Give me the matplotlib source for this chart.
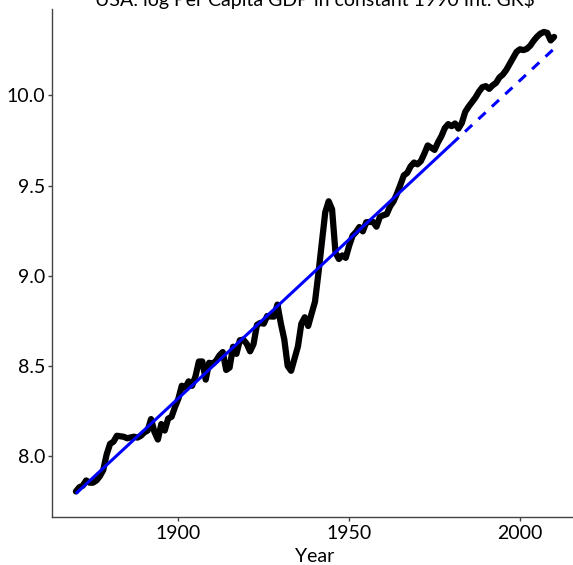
import numpy as np
import matplotlib
matplotlib.use('Agg')
import matplotlib.pyplot as plt

plt.rcParams['font.family'] = ['Lato', 'DejaVu Sans']

# USA per capita GDP, 1990 Int. GK$, 1870-2010
years = np.arange(1870, 2011)
gdp_pc = [
    2445, 2503, 2524, 2599, 2567, 2567, 2599, 2660, 2753, 3003,  # 1870s
    3184, 3223, 3331, 3322, 3312, 3285, 3300, 3314, 3297, 3329,  # 1880s
    3392, 3429, 3654, 3400, 3262, 3554, 3429, 3663, 3701, 3905,  # 1890s
    4091, 4397, 4346, 4505, 4394, 4629, 5030, 5031, 4548, 4994,  # 1900s
    4964, 5047, 5201, 5301, 4799, 4864, 5459, 5248, 5659, 5680,  # 1910s
    5552, 5323, 5540, 6164, 6233, 6205, 6476, 6459, 6454, 6899,  # 1920s
    6213, 5691, 4908, 4777, 5114, 5467, 6204, 6430, 6126, 6561,  # 1930s
    7010, 8206, 9741, 11518, 12241, 11709, 9197, 8886, 9065, 8944,  # 1940s
    9561, 10116, 10316, 10613, 10359, 10897, 10914, 10920, 10631, 11230,  # 1950s
    11328, 11402, 11905, 12242, 12773, 13419, 14134, 14330, 14863, 15179,  # 1960s
    15030, 15304, 15944, 16689, 16491, 16284, 16975, 17567, 18373, 18789,  # 1970s
    18577, 18856, 18325, 18920, 20123, 20717, 21236, 21788, 22499, 23059,  # 1980s
    23201, 22849, 23298, 23616, 24349, 24742, 25382, 26236, 27096, 28057,  # 1990s
    28467, 28338, 28522, 29035, 29833, 30519, 31049, 31336, 31178, 29899,  # 2000s
    30491,
]

# linear trend fitted through 1980, then projected forward
fit_years = [1870, 1980]
fit_vals = [7.79, 9.73]
proj_years = [1980, 2010]
proj_vals = [9.73, 10.26]

fig = plt.figure(figsize=(5.73, 5.65), dpi=100)
ax = fig.add_axes([52 / 573, 1 - 517 / 565, 526 / 573, 508 / 565])

ax.plot(years, np.log(gdp_pc), color='black', lw=4.5,
        solid_capstyle='round', solid_joinstyle='round')
ax.plot(fit_years, fit_vals, color='#0000ff', lw=2.2, solid_capstyle='butt')
ax.plot(proj_years, proj_vals, color='#0000ff', lw=2.2, ls=(0, (3.2, 2.8)))

ax.set_xlim(1863, 2017)
ax.set_ylim(7.66, 10.48)
ax.set_xticks([1900, 1950, 2000])
ax.set_yticks([8.0, 8.5, 9.0, 9.5, 10.0])
ax.set_yticklabels(['8.0', '8.5', '9.0', '9.5', '10.0'])

for side in ['top', 'right']:
    ax.spines[side].set_visible(False)
for side in ['left', 'bottom']:
    ax.spines[side].set_color('#444444')
    ax.spines[side].set_linewidth(1.0)

ax.tick_params(axis='both', colors='#444444', length=3, width=1,
               labelsize=14, labelcolor='black')
ax.tick_params(axis='x', pad=3)
ax.tick_params(axis='y', pad=2)

ax.set_xlabel('Year', fontsize=14, labelpad=4)
fig.text(315 / 573, 1 - 6 / 565, 'USA: log Per Capita GDP in constant 1990 Int. GK$',
         ha='center', va='baseline', fontsize=14)

fig.savefig('out.png', dpi=100)
